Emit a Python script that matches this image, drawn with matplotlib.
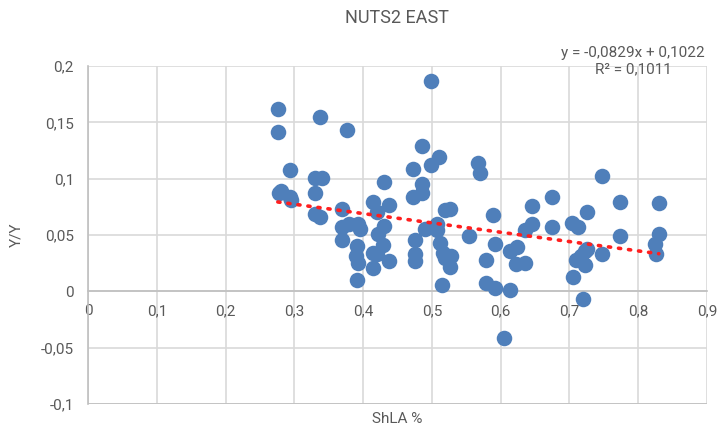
import matplotlib.pyplot as plt
import numpy as np
from matplotlib.ticker import FuncFormatter

# share of LA (x) vs Y/Y growth (y)
shla = [0.276, 0.276, 0.294, 0.337, 0.377, 0.485, 0.499, 0.511, 0.499, 0.473,
        0.567, 0.570, 0.330, 0.340, 0.430, 0.486, 0.486, 0.473, 0.277, 0.281,
        0.294, 0.295, 0.330, 0.330, 0.338, 0.370, 0.415, 0.437, 0.420, 0.369,
        0.380, 0.393, 0.395, 0.370, 0.430, 0.421, 0.429, 0.391, 0.390, 0.393,
        0.415, 0.420, 0.415, 0.437, 0.391, 0.475, 0.475, 0.475, 0.490, 0.507,
        0.507, 0.519, 0.527, 0.512, 0.516, 0.519, 0.528, 0.526, 0.515, 0.554,
        0.589, 0.592, 0.578, 0.579, 0.592, 0.605, 0.614, 0.613, 0.624, 0.623,
        0.635, 0.636, 0.645, 0.645, 0.674, 0.674, 0.704, 0.712, 0.725, 0.705,
        0.710, 0.717, 0.722, 0.725, 0.722, 0.719, 0.747, 0.774, 0.774, 0.747,
        0.830, 0.830, 0.824, 0.826]
yy = [0.162, 0.141, 0.108, 0.155, 0.143, 0.129, 0.187, 0.119, 0.112, 0.109,
      0.114, 0.105, 0.101, 0.101, 0.097, 0.095, 0.087, 0.084, 0.087, 0.089,
      0.084, 0.081, 0.087, 0.069, 0.066, 0.073, 0.079, 0.077, 0.070, 0.057,
      0.060, 0.060, 0.055, 0.046, 0.058, 0.051, 0.041, 0.040, 0.031, 0.025,
      0.034, 0.033, 0.021, 0.027, 0.010, 0.046, 0.033, 0.027, 0.055, 0.060,
      0.054, 0.072, 0.073, 0.043, 0.034, 0.030, 0.031, 0.022, 0.006, 0.049,
      0.068, 0.042, 0.028, 0.007, 0.003, -0.041, 0.0015, 0.036, 0.039, 0.024,
      0.025, 0.054, 0.060, 0.076, 0.084, 0.057, 0.061, 0.057, 0.070, 0.013,
      0.028, 0.031, 0.036, 0.038, 0.023, -0.007, 0.102, 0.079, 0.049, 0.033,
      0.078, 0.051, 0.042, 0.033]

# linear trendline as reported in the chart
slope = -0.0829
intercept = 0.1022
r2 = 0.1011

x_ticks = [0, 0.1, 0.2, 0.3, 0.4, 0.5, 0.6, 0.7, 0.8, 0.9]
y_ticks = [-0.1, -0.05, 0, 0.05, 0.1, 0.15, 0.2]

plt.rcParams['font.family'] = ['Roboto', 'DejaVu Sans']
text_col = '#595959'


def comma(v, pos):
    s = f"{v:.2f}".rstrip('0').rstrip('.')
    if s == '-0':
        s = '0'
    return s.replace('.', ',')


fig = plt.figure(figsize=(7.19, 4.30), dpi=100)
ax = fig.add_axes([88 / 719, 1 - 404 / 430, (707 - 88) / 719, (404 - 66) / 430])

ax.scatter(shla, yy, s=125, color='#4f7fba', zorder=3, linewidths=0)

tx = np.array([min(shla), max(shla)])
ax.plot(tx, slope * tx + intercept, color='#ff1f1f', linestyle=(0, (0.6, 2.2)),
        linewidth=2.6, dash_capstyle='round', zorder=4)

ax.set_xlim(0, 0.9)
ax.set_ylim(-0.1, 0.2)
ax.set_xticks(x_ticks)
ax.set_yticks(y_ticks)
ax.xaxis.set_major_formatter(FuncFormatter(comma))
ax.yaxis.set_major_formatter(FuncFormatter(comma))
ax.grid(True, color='#d9d9d9', linewidth=1.2, zorder=0)
ax.set_axisbelow(True)

for side in ['top', 'right']:
    ax.spines[side].set_visible(False)
ax.spines['bottom'].set_position(('data', 0))
ax.spines['bottom'].set_color('#bfbfbf')
ax.spines['left'].set_color('#bfbfbf')
ax.spines['bottom'].set_linewidth(1.2)
ax.spines['left'].set_linewidth(1.2)
ax.axhline(-0.1, color='#bfbfbf', linewidth=1.2, zorder=1)
ax.tick_params(length=0, labelsize=11, colors=text_col, pad=10)
ax.tick_params(axis='x', pad=9)

fig.text(397 / 719, 1 - 18 / 430, 'NUTS2 EAST', ha='center', va='center',
         fontsize=13, color=text_col)
fig.text(633 / 719, 1 - 61 / 430,
         f"y = {slope:.4f}x + {intercept:.4f}\nR² = {r2:.4f}".replace('.', ','),
         ha='center', va='center', fontsize=11, color=text_col, linespacing=1.25)
fig.text(397 / 719, 1 - 419 / 430, 'ShLA %', ha='center', va='center',
         fontsize=11, color=text_col)
fig.text(16 / 719, 1 - 235 / 430, 'Y/Y', ha='center', va='center',
         rotation=90, fontsize=11, color=text_col)

fig.savefig('out.png', dpi=100)
